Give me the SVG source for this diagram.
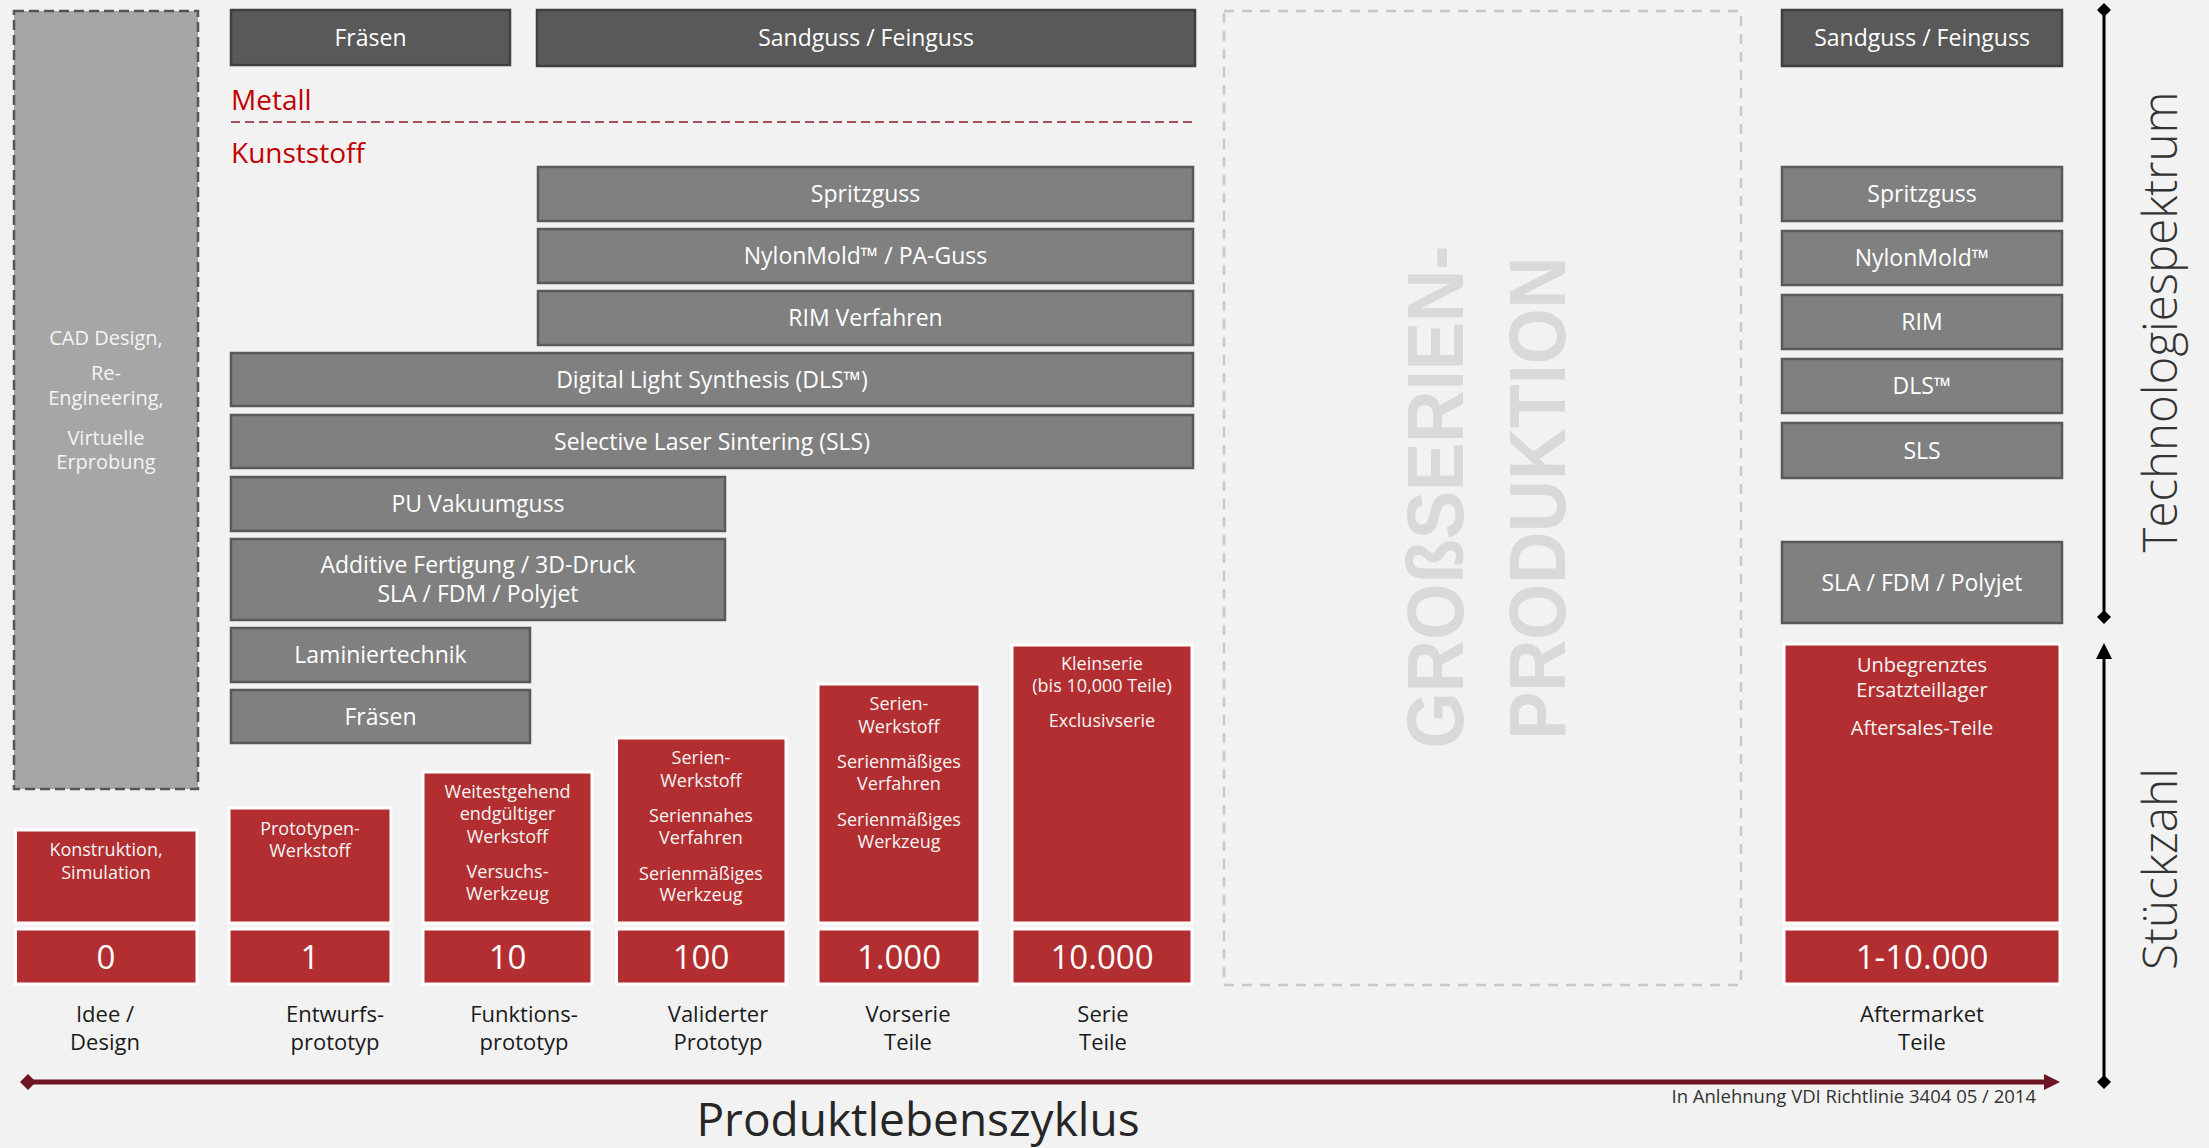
<svg xmlns="http://www.w3.org/2000/svg" width="2209" height="1148" viewBox="0 0 2209 1148">
<defs>
<style>
text{font-family:"Open Sans","Liberation Sans",sans-serif;}
.dk rect{fill:#595959;stroke:#3f3f3f;stroke-width:2.5;}
.md rect{fill:#808080;stroke:#595959;stroke-width:2.5;}
.rd rect{fill:#b22e30;stroke:#ffffff;stroke-width:3;}
.bt{fill:#ffffff;font-size:23px;text-anchor:middle;}
.rt{fill:#f4f4f4;font-size:18px;text-anchor:middle;}
.num{fill:#ffffff;font-size:33px;text-anchor:middle;}
.lab{fill:#1a1a1a;font-size:22px;text-anchor:middle;}
.mat{fill:#c00000;font-size:28px;}
.ax{fill:#333333;font-size:48px;font-weight:300;text-anchor:middle;}
.big{fill:#d9d9d9;font-family:"Liberation Sans",Arial,sans-serif;font-weight:bold;font-size:80px;text-anchor:middle;}
</style>
<marker id="dia" viewBox="0 0 16 16" refX="8" refY="8" markerWidth="16" markerHeight="16" markerUnits="userSpaceOnUse" orient="auto">
<path d="M8,1 L15,8 L8,15 L1,8 Z" fill="#000000"/>
</marker>
<marker id="arr" viewBox="0 0 16 16" refX="8" refY="8" markerWidth="16" markerHeight="16" markerUnits="userSpaceOnUse" orient="auto">
<path d="M0,0 L16,8 L0,16 Z" fill="#000000"/>
</marker>
<marker id="diaR" viewBox="0 0 16 16" refX="8" refY="8" markerWidth="16" markerHeight="16" markerUnits="userSpaceOnUse" orient="auto">
<path d="M8,0 L16,8 L8,16 L0,8 Z" fill="#6e1523"/>
</marker>
<marker id="arrR" viewBox="0 0 16 16" refX="8" refY="8" markerWidth="16" markerHeight="16" markerUnits="userSpaceOnUse" orient="auto">
<path d="M0,0 L16,8 L0,16 Z" fill="#6e1523"/>
</marker>
</defs>
<rect x="0" y="0" width="2209" height="1148" fill="#f2f2f2"/>

<!-- left CAD column -->
<g id="cad">
<rect x="14" y="11" width="184" height="778" fill="#a6a6a6" stroke="#555555" stroke-width="2.5" stroke-dasharray="10 5"/>
<text class="rt" style="font-size:20px" x="106"><tspan x="106" y="345">CAD Design,</tspan><tspan x="106" y="380">Re-</tspan><tspan x="106" y="405">Engineering,</tspan><tspan x="106" y="445">Virtuelle</tspan><tspan x="106" y="469">Erprobung</tspan></text>
</g>

<!-- Grossserien box -->
<g id="grossserie">
<rect x="1224" y="11" width="517" height="974" fill="none" stroke="#c8c8c8" stroke-width="2.5" stroke-dasharray="10 8"/>
<text class="big" transform="translate(1463,497) rotate(-90)" textLength="503" lengthAdjust="spacingAndGlyphs">GROßSERIEN-</text>
<text class="big" transform="translate(1565,498) rotate(-90)" textLength="483" lengthAdjust="spacingAndGlyphs">PRODUKTION</text>
</g>

<!-- Metall / Kunststoff -->
<g id="material">
<text class="mat" x="231" y="110">Metall</text>
<line x1="231" y1="122" x2="1192" y2="122" stroke="#a8505c" stroke-width="2" stroke-dasharray="9 5"/>
<text class="mat" x="231" y="163">Kunststoff</text>
</g>

<!-- dark grey metal boxes -->
<g id="m-fraesen" class="dk"><rect x="231" y="10" width="279" height="55"/><text class="bt" x="370.5" y="45.5">Fräsen</text></g>
<g id="m-sandguss" class="dk"><rect x="537" y="10" width="658" height="56"/><text class="bt" x="866" y="46">Sandguss / Feinguss</text></g>
<g id="m-sandguss-am" class="dk"><rect x="1782" y="10" width="280" height="56"/><text class="bt" x="1922" y="46">Sandguss / Feinguss</text></g>

<!-- medium grey plastic boxes -->
<g id="k-spritzguss" class="md"><rect x="538" y="167" width="655" height="54"/><text class="bt" x="865.5" y="202">Spritzguss</text></g>
<g id="k-nylon" class="md"><rect x="538" y="229" width="655" height="54"/><text class="bt" x="865.5" y="264">NylonMold™ / PA-Guss</text></g>
<g id="k-rim" class="md"><rect x="538" y="291" width="655" height="54"/><text class="bt" x="865.5" y="326">RIM Verfahren</text></g>
<g id="k-dls" class="md"><rect x="231" y="353" width="962" height="53"/><text class="bt" x="712" y="387.5">Digital Light Synthesis (DLS™)</text></g>
<g id="k-sls" class="md"><rect x="231" y="415" width="962" height="53"/><text class="bt" x="712" y="449.5">Selective Laser Sintering (SLS)</text></g>
<g id="k-pu" class="md"><rect x="231" y="477" width="494" height="54"/><text class="bt" x="478" y="512">PU Vakuumguss</text></g>
<g id="k-additiv" class="md"><rect x="231" y="539" width="494" height="81"/><text class="bt"><tspan x="478" y="573">Additive Fertigung / 3D-Druck</tspan><tspan x="478" y="602">SLA / FDM / Polyjet</tspan></text></g>
<g id="k-laminier" class="md"><rect x="231" y="628" width="299" height="54"/><text class="bt" x="380.5" y="663">Laminiertechnik</text></g>
<g id="k-fraesen" class="md"><rect x="231" y="690" width="299" height="53"/><text class="bt" x="380.5" y="724.5">Fräsen</text></g>

<g id="a-spritzguss" class="md"><rect x="1782" y="167" width="280" height="54"/><text class="bt" x="1922" y="202">Spritzguss</text></g>
<g id="a-nylon" class="md"><rect x="1782" y="231" width="280" height="54"/><text class="bt" x="1922" y="266">NylonMold™</text></g>
<g id="a-rim" class="md"><rect x="1782" y="295" width="280" height="54"/><text class="bt" x="1922" y="330">RIM</text></g>
<g id="a-dls" class="md"><rect x="1782" y="359" width="280" height="54"/><text class="bt" x="1922" y="394">DLS™</text></g>
<g id="a-sls" class="md"><rect x="1782" y="423" width="280" height="55"/><text class="bt" x="1922" y="458.5">SLS</text></g>
<g id="a-sla" class="md"><rect x="1782" y="542" width="280" height="81"/><text class="bt" x="1922" y="590.5">SLA / FDM / Polyjet</text></g>

<!-- red stage boxes -->
<g id="s-idee" class="rd">
<rect x="15.5" y="830" width="181.5" height="93"/>
<text class="rt"><tspan x="106" y="856">Konstruktion,</tspan><tspan x="106" y="879">Simulation</tspan></text>
<rect x="15.5" y="929" width="181.5" height="55"/>
<text class="num" x="106" y="968.5">0</text>
</g>
<g id="s-entwurf" class="rd">
<rect x="229" y="808" width="162" height="115"/>
<text class="rt"><tspan x="310" y="835">Prototypen-</tspan><tspan x="310" y="857">Werkstoff</tspan></text>
<rect x="229" y="929" width="162" height="55"/>
<text class="num" x="310" y="968.5">1</text>
</g>
<g id="s-funktion" class="rd">
<rect x="423" y="772" width="169" height="151"/>
<text class="rt"><tspan x="507.5" y="798">Weitestgehend</tspan><tspan x="507.5" y="820">endgültiger</tspan><tspan x="507.5" y="843">Werkstoff</tspan><tspan x="507.5" y="878">Versuchs-</tspan><tspan x="507.5" y="900">Werkzeug</tspan></text>
<rect x="423" y="929" width="169" height="55"/>
<text class="num" x="507.5" y="968.5">10</text>
</g>
<g id="s-valid" class="rd">
<rect x="616.5" y="738" width="169.5" height="185"/>
<text class="rt"><tspan x="701" y="764">Serien-</tspan><tspan x="701" y="787">Werkstoff</tspan><tspan x="701" y="822">Seriennahes</tspan><tspan x="701" y="844">Verfahren</tspan><tspan x="701" y="880">Serienmäßiges</tspan><tspan x="701" y="901">Werkzeug</tspan></text>
<rect x="616.5" y="929" width="169.5" height="55"/>
<text class="num" x="701" y="968.5">100</text>
</g>
<g id="s-vorserie" class="rd">
<rect x="818" y="684" width="162" height="239"/>
<text class="rt"><tspan x="899" y="710">Serien-</tspan><tspan x="899" y="733">Werkstoff</tspan><tspan x="899" y="768">Serienmäßiges</tspan><tspan x="899" y="790">Verfahren</tspan><tspan x="899" y="826">Serienmäßiges</tspan><tspan x="899" y="848">Werkzeug</tspan></text>
<rect x="818" y="929" width="162" height="55"/>
<text class="num" x="899" y="968.5">1.000</text>
</g>
<g id="s-serie" class="rd">
<rect x="1012" y="645" width="180" height="278"/>
<text class="rt"><tspan x="1102" y="670">Kleinserie</tspan><tspan x="1102" y="692">(bis 10,000 Teile)</tspan><tspan x="1102" y="727">Exclusivserie</tspan></text>
<rect x="1012" y="929" width="180" height="55"/>
<text class="num" x="1102" y="968.5">10.000</text>
</g>
<g id="s-aftermarket" class="rd">
<rect x="1784" y="644" width="276" height="279"/>
<text class="rt" style="font-size:20px"><tspan x="1922" y="672">Unbegrenztes</tspan><tspan x="1922" y="697">Ersatzteillager</tspan><tspan x="1922" y="735">Aftersales-Teile</tspan></text>
<rect x="1784" y="929" width="276" height="55"/>
<text class="num" x="1922" y="968.5">1-10.000</text>
</g>

<!-- stage labels -->
<g id="labels">
<text class="lab"><tspan x="105" y="1022">Idee /</tspan><tspan x="105" y="1050">Design</tspan></text>
<text class="lab"><tspan x="335" y="1022">Entwurfs-</tspan><tspan x="335" y="1050">prototyp</tspan></text>
<text class="lab"><tspan x="524" y="1022">Funktions-</tspan><tspan x="524" y="1050">prototyp</tspan></text>
<text class="lab"><tspan x="718" y="1022">Validerter</tspan><tspan x="718" y="1050">Prototyp</tspan></text>
<text class="lab"><tspan x="908" y="1022">Vorserie</tspan><tspan x="908" y="1050">Teile</tspan></text>
<text class="lab"><tspan x="1103" y="1022">Serie</tspan><tspan x="1103" y="1050">Teile</tspan></text>
<text class="lab"><tspan x="1922" y="1022">Aftermarket</tspan><tspan x="1922" y="1050">Teile</tspan></text>
</g>

<!-- axes -->
<g id="connectors">
<line x1="2104" y1="10" x2="2104" y2="617" stroke="#000000" stroke-width="3" marker-start="url(#dia)" marker-end="url(#dia)"/>
<line x1="2104" y1="1082" x2="2104" y2="651" stroke="#000000" stroke-width="3" marker-start="url(#dia)" marker-end="url(#arr)"/>
<line x1="28" y1="1082" x2="2052" y2="1082" stroke="#6e1523" stroke-width="5" marker-start="url(#diaR)" marker-end="url(#arrR)"/>
</g>

<g id="axis-labels">
<text class="ax" transform="translate(2177,322) rotate(-90)" textLength="461" lengthAdjust="spacingAndGlyphs">Technologiespektrum</text>
<text class="ax" transform="translate(2177,869) rotate(-90)" textLength="202" lengthAdjust="spacingAndGlyphs">Stückzahl</text>
<text x="918" y="1136" style="fill:#262626;font-size:46px;text-anchor:middle;">Produktlebenszyklus</text>
<text x="2036" y="1103" style="fill:#333333;font-size:18.5px;text-anchor:end;">In Anlehnung VDI Richtlinie 3404 05 / 2014</text>
</g>
</svg>
